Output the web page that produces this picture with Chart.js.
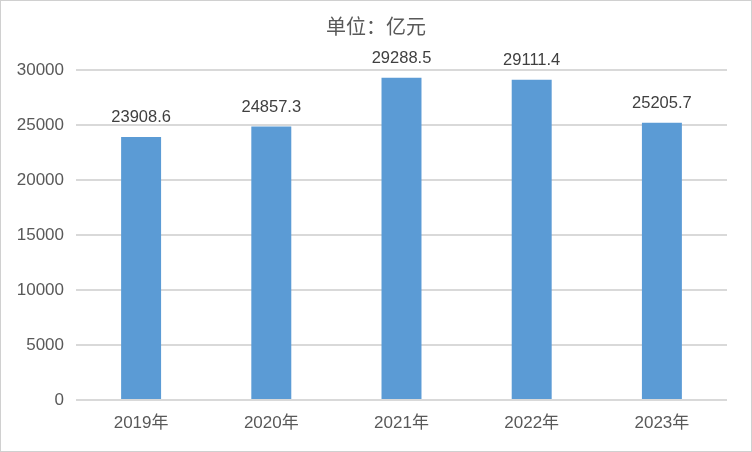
<!DOCTYPE html>
<html>
<head>
<meta charset="utf-8">
<script src="https://cdn.jsdelivr.net/npm/chart.js@4/dist/chart.umd.min.js"></script>
<style>
  html, body { margin: 0; padding: 0; background: #ffffff; }
  #wrap { width: 752px; height: 452px; position: relative; }
</style>
</head>
<body>
<div id="wrap"><canvas id="c" width="752" height="452"></canvas></div>
<script>
const categories = ["2019年", "2020年", "2021年", "2022年", "2023年"];
const values = [23908.6, 24857.3, 29288.5, 29111.4, 25205.7];
const yTicks = [0, 5000, 10000, 15000, 20000, 25000, 30000];
const titleText = "单位：亿元";

const FONT = "'Liberation Sans', 'Noto Sans CJK SC', sans-serif";

const frame = {
  id: 'frame',
  beforeDraw(chart) {
    const ctx = chart.ctx;
    ctx.save();
    ctx.fillStyle = '#ffffff';
    ctx.fillRect(0, 0, chart.width, chart.height);
    ctx.restore();
  },
  afterDraw(chart) {
    const ctx = chart.ctx;
    ctx.save();
    ctx.strokeStyle = '#d0d0d0';
    ctx.lineWidth = 1;
    ctx.strokeRect(0.5, 0.5, chart.width - 1, chart.height - 1);
    ctx.restore();
  }
};

const valueLabels = {
  id: 'valueLabels',
  afterDatasetsDraw(chart) {
    const ctx = chart.ctx;
    const meta = chart.getDatasetMeta(0);
    ctx.save();
    ctx.font = "16.5px " + FONT;
    ctx.fillStyle = '#404040';
    ctx.textAlign = 'center';
    ctx.textBaseline = 'alphabetic';
    meta.data.forEach((bar, i) => {
      ctx.fillText(values[i].toFixed(1), bar.x, bar.y - 15);
    });
    ctx.restore();
  }
};

new Chart(document.getElementById('c'), {
  type: 'bar',
  data: {
    labels: categories,
    datasets: [{
      data: values,
      backgroundColor: '#5b9bd5',
      borderWidth: 0,
      categoryPercentage: 1,
      barPercentage: 0.307
    }]
  },
  options: {
    responsive: false,
    animation: false,
    devicePixelRatio: 1,
    layout: { padding: 0 },
    plugins: {
      legend: { display: false },
      tooltip: { enabled: false },
      title: {
        display: true,
        text: titleText,
        color: '#595959',
        font: { family: FONT, size: 20, weight: 'normal' },
        padding: { top: 16, bottom: 30 }
      }
    },
    scales: {
      x: {
        grid: { display: false, drawTicks: false },
        border: { display: false },
        ticks: {
          color: '#595959',
          font: { family: FONT, size: 17 },
          padding: 13,
          maxRotation: 0
        },
        afterFit(scale) { scale.height = 52; }
      },
      y: {
        min: 0,
        max: 30000,
        afterBuildTicks(scale) { scale.ticks = yTicks.map(v => ({ value: v })); },
        grid: { color: '#d9d9d9', lineWidth: 2, drawTicks: false },
        border: { display: false },
        ticks: {
          color: '#595959',
          font: { family: FONT, size: 17 },
          padding: 12,
          callback: v => String(v)
        },
        afterFit(scale) { scale.width = 76; }
      },
      yRight: {
        position: 'right',
        min: 0,
        max: 30000,
        grid: { display: false, drawTicks: false },
        border: { display: false },
        ticks: { display: false },
        afterFit(scale) { scale.width = 25; }
      }
    }
  },
  plugins: [frame, valueLabels]
});
</script>
</body>
</html>
